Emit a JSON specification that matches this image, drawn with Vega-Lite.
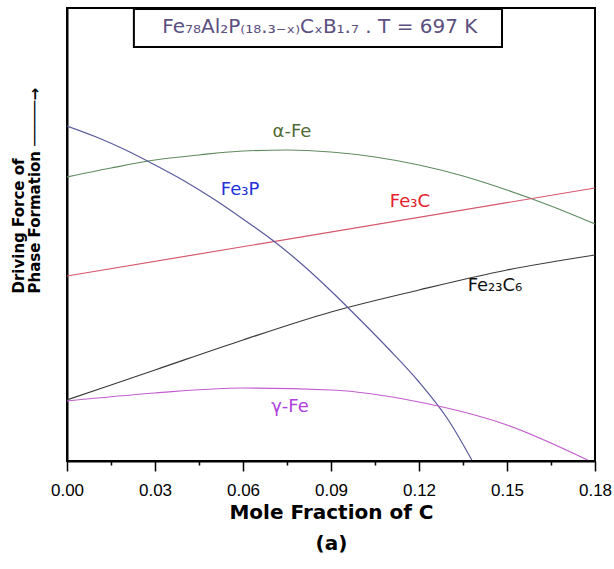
{
  "$schema": "https://vega.github.io/schema/vega-lite/v6.json",
  "width": 528,
  "height": 453,
  "autosize": "none",
  "padding": {"left": 67, "top": 8, "right": 19, "bottom": 108},
  "background": "white",
  "config": {
    "view": {"stroke": "black", "strokeWidth": 2},
    "font": "DejaVu Sans"
  },
  "datasets": {
    "curves": [
      {"phase": "α-Fe", "x": 0, "y": 284}, {"phase": "α-Fe", "x": 0.015, "y": 293}, {"phase": "α-Fe", "x": 0.03, "y": 301}, {"phase": "α-Fe", "x": 0.045, "y": 306}, {"phase": "α-Fe", "x": 0.06, "y": 310}, {"phase": "α-Fe", "x": 0.075, "y": 311}, {"phase": "α-Fe", "x": 0.09, "y": 309}, {"phase": "α-Fe", "x": 0.105, "y": 304}, {"phase": "α-Fe", "x": 0.12, "y": 296}, {"phase": "α-Fe", "x": 0.135, "y": 285}, {"phase": "α-Fe", "x": 0.15, "y": 271}, {"phase": "α-Fe", "x": 0.165, "y": 255}, {"phase": "α-Fe", "x": 0.18, "y": 237},
      {"phase": "Fe3C", "x": 0, "y": 185}, {"phase": "Fe3C", "x": 0.18, "y": 273},
      {"phase": "Fe23C6", "x": 0, "y": 61}, {"phase": "Fe23C6", "x": 0.03, "y": 91}, {"phase": "Fe23C6", "x": 0.06, "y": 121}, {"phase": "Fe23C6", "x": 0.09, "y": 149}, {"phase": "Fe23C6", "x": 0.12, "y": 171}, {"phase": "Fe23C6", "x": 0.15, "y": 191}, {"phase": "Fe23C6", "x": 0.18, "y": 206},
      {"phase": "Fe3P", "x": 0, "y": 335}, {"phase": "Fe3P", "x": 0.01, "y": 324}, {"phase": "Fe3P", "x": 0.02, "y": 311}, {"phase": "Fe3P", "x": 0.03, "y": 296}, {"phase": "Fe3P", "x": 0.04, "y": 280}, {"phase": "Fe3P", "x": 0.05, "y": 262}, {"phase": "Fe3P", "x": 0.06, "y": 242}, {"phase": "Fe3P", "x": 0.07, "y": 221}, {"phase": "Fe3P", "x": 0.08, "y": 197}, {"phase": "Fe3P", "x": 0.09, "y": 170}, {"phase": "Fe3P", "x": 0.1, "y": 141}, {"phase": "Fe3P", "x": 0.11, "y": 111}, {"phase": "Fe3P", "x": 0.12, "y": 79}, {"phase": "Fe3P", "x": 0.13, "y": 41}, {"phase": "Fe3P", "x": 0.138, "y": 1},
      {"phase": "γ-Fe", "x": 0, "y": 60}, {"phase": "γ-Fe", "x": 0.03, "y": 68}, {"phase": "γ-Fe", "x": 0.06, "y": 73}, {"phase": "γ-Fe", "x": 0.09, "y": 71}, {"phase": "γ-Fe", "x": 0.12, "y": 59}, {"phase": "γ-Fe", "x": 0.15, "y": 36}, {"phase": "γ-Fe", "x": 0.1775, "y": 1}
    ],
    "labels": [
      {"phase": "α-Fe", "text": "α-Fe", "x": 0.0767, "y": 329},
      {"phase": "Fe3P", "text": "Fe₃P", "x": 0.059, "y": 271},
      {"phase": "Fe3C", "text": "Fe₃C", "x": 0.1169, "y": 259},
      {"phase": "Fe23C6", "text": "Fe₂₃C₆", "x": 0.1459, "y": 175},
      {"phase": "γ-Fe", "text": "γ-Fe", "x": 0.076, "y": 54}
    ],
    "titlebox": [
      {"text": "Fe₇₈Al₂P₍₁₈.₃₋ₓ₎CₓB₁.₇ . T = 697 K", "x1": 0.0228, "x2": 0.1483, "y1": 414, "y2": 452, "xm": 0.0862, "ym": 434}
    ]
  },
  "layer": [
    {
      "data": {"name": "curves"},
      "mark": {"type": "line", "interpolate": "monotone", "strokeWidth": 1.2, "clip": true},
      "encoding": {
        "x": {
          "field": "x", "type": "quantitative",
          "scale": {"domain": [0, 0.18], "nice": false, "zero": false},
          "axis": {
            "values": [0, 0.015, 0.03, 0.045, 0.06, 0.075, 0.09, 0.105, 0.12, 0.135, 0.15, 0.165, 0.18],
            "labelExpr": "round(datum.value*1000) % 30 === 0 ? format(datum.value, '.2f') : ''",
            "grid": false,
            "domainColor": "black", "domainWidth": 2,
            "tickColor": "black", "tickWidth": 1.5,
            "tickSize": {"condition": {"test": "round(datum.value*1000) % 30 === 0", "value": 10}, "value": 4},
            "labelFont": "Liberation Sans", "labelFontSize": 17, "labelColor": "black", "labelPadding": 11,
            "labelFlush": false,
            "title": ["Mole Fraction of C", "(a)"],
            "titleFont": "DejaVu Sans", "titleFontSize": 20, "titleFontWeight": "bold", "titleColor": "black",
            "titleLineHeight": 31, "titlePadding": 4
          }
        },
        "y": {
          "field": "y", "type": "quantitative",
          "scale": {"domain": [0, 453], "nice": false},
          "axis": {
            "ticks": false, "labels": false, "grid": false,
            "domainColor": "black", "domainWidth": 2,
            "title": ["Driving Force of", "Phase Formation ─────→"],
            "titleFont": "DejaVu Sans", "titleFontSize": 15, "titleFontWeight": "bold", "titleColor": "black",
            "titleAlign": "left", "titleAnchor": "start", "titleAngle": -90,
            "titleX": -49, "titleY": 285, "titleLineHeight": 16, "titleBaseline": "middle"
          }
        },
        "color": {
          "field": "phase", "type": "nominal", "legend": null,
          "scale": {"domain": ["α-Fe", "Fe3P", "Fe3C", "Fe23C6", "γ-Fe"], "range": ["#5e8c5e", "#5a5a9e", "#d4566c", "#3a3a3a", "#c35ccf"]}
        }
      }
    },
    {
      "data": {"name": "labels"},
      "mark": {"type": "text", "fontSize": 18, "align": "center", "baseline": "middle"},
      "encoding": {
        "x": {"field": "x", "type": "quantitative"},
        "y": {"field": "y", "type": "quantitative"},
        "text": {"field": "text"},
        "color": {
          "field": "phase", "type": "nominal", "legend": null,
          "scale": {"domain": ["α-Fe", "Fe3P", "Fe3C", "Fe23C6", "γ-Fe"], "range": ["#4f6b33", "#2233d8", "#e3202c", "#111111", "#b040e0"]}
        }
      }
    },
    {
      "data": {"name": "titlebox"},
      "mark": {"type": "rect", "fill": "white", "stroke": "black", "strokeWidth": 2},
      "encoding": {
        "x": {"field": "x1", "type": "quantitative"},
        "x2": {"field": "x2"},
        "y": {"field": "y1", "type": "quantitative"},
        "y2": {"field": "y2"}
      }
    },
    {
      "data": {"name": "titlebox"},
      "mark": {"type": "text", "fontSize": 20, "color": "#5b4f7f", "align": "center", "baseline": "middle"},
      "encoding": {
        "x": {"field": "xm", "type": "quantitative"},
        "y": {"field": "ym", "type": "quantitative"},
        "text": {"field": "text"}
      }
    }
  ],
  "resolve": {"scale": {"color": "independent"}}
}
